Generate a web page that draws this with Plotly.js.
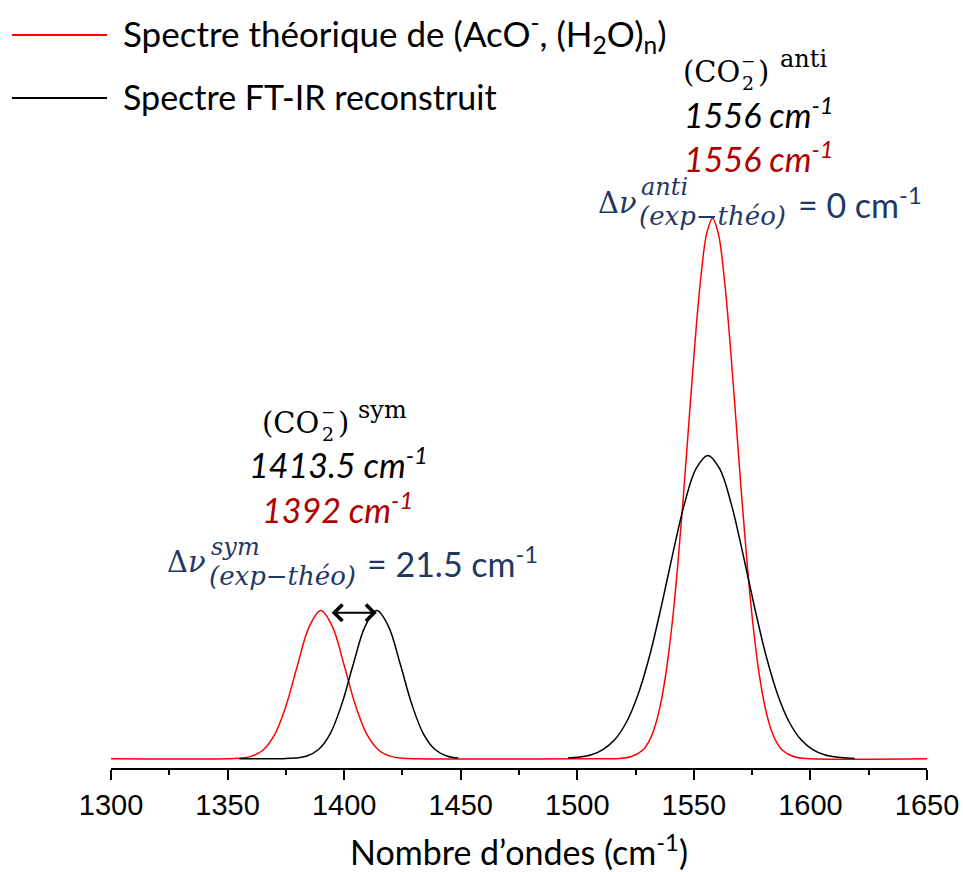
<!DOCTYPE html>
<html>
<head>
<meta charset="utf-8">
<script src="https://cdn.plot.ly/plotly-3.0.1.min.js"></script>
<style>html,body{margin:0;padding:0;background:#fff;}#chart{width:963px;height:872px;}</style>
</head>
<body>
<div id="chart"></div>
<script>
// ---- data ----
const redX = [1300, 1350, 1355, 1360, 1365, 1370, 1375, 1380, 1385, 1390, 1395, 1400, 1405, 1410, 1415, 1420, 1425, 1430,
  1500, 1518, 1523, 1528, 1530.5, 1533, 1535.5, 1538, 1540.5, 1543, 1545.5, 1548, 1550.5, 1553, 1555.5, 1558,
  1560.5, 1563, 1565.5, 1568, 1570.5, 1573, 1575.5, 1578, 1580.5, 1583, 1585.5, 1588, 1593, 1598, 1650];
const redY = [0, 0, 0.001, 0.0043, 0.0152, 0.043, 0.097, 0.173, 0.244, 0.274, 0.244, 0.173, 0.097, 0.043, 0.0152, 0.0043, 0.001, 0,
  0, 0.0006, 0.0035, 0.0156, 0.0303, 0.0556, 0.0963, 0.1574, 0.2427, 0.3534, 0.4856, 0.6298, 0.771, 0.8908, 0.9715, 1.0,
  0.9715, 0.8908, 0.771, 0.6298, 0.4856, 0.3534, 0.2427, 0.1574, 0.0963, 0.0556, 0.0303, 0.0156, 0.0035, 0.0006, 0];

const blackX = [1355, 1374, 1379, 1384, 1389, 1394, 1399, 1404, 1409, 1414, 1419, 1424, 1429, 1434, 1439, 1444, 1449,
  1470,
  1496, 1501, 1506, 1511, 1516, 1521, 1526, 1531, 1536, 1541, 1546, 1551, 1556, 1561, 1566, 1571, 1576, 1581, 1586,
  1591, 1596, 1601, 1606, 1611, 1616, 1619];
const blackY = [0, 0.0001, 0.0012, 0.005, 0.017, 0.046, 0.101, 0.176, 0.245, 0.274, 0.245, 0.176, 0.101, 0.046, 0.017, 0.005, 0.0012,
  null,
  0.0011, 0.003, 0.0074, 0.017, 0.035, 0.067, 0.118, 0.190, 0.281, 0.380, 0.472, 0.537, 0.561, 0.537, 0.472, 0.380, 0.281, 0.190, 0.118,
  0.067, 0.035, 0.017, 0.0074, 0.003, 0.0011, 0.0005];

const tickVals = [1300, 1350, 1400, 1450, 1500, 1550, 1600, 1650];
const tickText = ['1300', '1350', '1400', '1450', '1500', '1550', '1600', '1650'];

const seriesNames = ['Spectre théorique de (AcO<sup>-</sup>, (H<sub>2</sub>O)<sub>n</sub>)', 'Spectre FT-IR reconstruit'];
const arrowFrom = 1394, arrowTo = 1414, arrowLevel = 0.270;

// ---- layout helpers (pixel -> paper) ----
const L = 111, R = 927.3, T = 20, B = 768.3;
const px = x => (x - L) / (R - L);
const py = y => (B - y) / (B - T);

const SANS = 'Lato, "Open Sans", sans-serif';
const SERIF = '"DejaVu Serif", serif';
const NAVY = '#1F3864';
const DRED = '#B00000';
const SZ = 34;

function ann(text, x, y, opts) {
  return Object.assign({
    text: text, xref: 'paper', yref: 'paper', x: px(x), y: py(y),
    xanchor: 'left', yanchor: 'middle', showarrow: false, borderpad: 0,
    font: {family: SANS, size: SZ, color: '#000'}
  }, opts || {});
}

const annotations = [
  // legend texts
  ann(seriesNames[0], 122, 34, {font: {family: SANS, size: 35, color: '#000'}}),
  ann(seriesNames[1], 122, 97, {font: {family: SANS, size: SZ, color: '#000'}}),

  // anti group
  ann('(CO', 682, 72, {font: {family: SERIF, size: 29, color: '#000'}}),
  ann('2', 748, 83, {xanchor: 'center', font: {family: SERIF, size: 19, color: '#000'}}),
  ann('−', 748, 61, {xanchor: 'center', font: {family: SERIF, size: 17, color: '#000'}}),
  ann(')', 757, 72, {font: {family: SERIF, size: 29, color: '#000'}}),
  ann('anti', 779, 59, {font: {family: SERIF, size: 24, color: '#000'}}),
  ann('<i>1556 cm<sup>-1</sup></i>', 759, 113, {xanchor: 'center', font: {family: SANS, size: SZ, color: '#000'}}),
  ann('<i>1556 cm<sup>-1</sup></i>', 759, 157, {xanchor: 'center', font: {family: SANS, size: SZ, color: DRED}}),
  ann('Δ<i>ν</i>', 597, 203, {font: {family: SERIF, size: 29, color: NAVY}}),
  ann('<i>anti</i>', 640, 187, {font: {family: SERIF, size: 24, color: NAVY}}),
  ann('<i>(exp−théo)</i>', 638, 216, {font: {family: SERIF, size: 26, color: NAVY}}),
  ann('= 0 cm<sup>-1</sup>', 797, 203, {font: {family: SANS, size: SZ, color: NAVY}}),

  // sym group
  ann('(CO', 261, 423, {font: {family: SERIF, size: 29, color: '#000'}}),
  ann('2', 328, 434, {xanchor: 'center', font: {family: SERIF, size: 19, color: '#000'}}),
  ann('−', 328, 412, {xanchor: 'center', font: {family: SERIF, size: 17, color: '#000'}}),
  ann(')', 337, 423, {font: {family: SERIF, size: 29, color: '#000'}}),
  ann('sym', 357, 410, {font: {family: SERIF, size: 24, color: '#000'}}),
  ann('<i>1413.5 cm<sup>-1</sup></i>', 339, 463, {xanchor: 'center', font: {family: SANS, size: SZ, color: '#000'}}),
  ann('<i>1392 cm<sup>-1</sup></i>', 338, 508, {xanchor: 'center', font: {family: SANS, size: SZ, color: DRED}}),
  ann('Δ<i>ν</i>', 166, 562, {font: {family: SERIF, size: 29, color: NAVY}}),
  ann('<i>sym</i>', 210, 547, {font: {family: SERIF, size: 24, color: NAVY}}),
  ann('<i>(exp−théo)</i>', 208, 576, {font: {family: SERIF, size: 26, color: NAVY}}),
  ann('= 21.5 cm<sup>-1</sup>', 366, 562, {font: {family: SANS, size: SZ, color: NAVY}}),

  // double arrow between the two sym maxima
  {text: '', x: arrowTo, y: arrowLevel, ax: arrowFrom, ay: arrowLevel,
   xref: 'x', yref: 'y', axref: 'x', ayref: 'y', showarrow: true,
   arrowside: 'end+start', arrowhead: 4, startarrowhead: 4,
   arrowsize: 1.6, startarrowsize: 1.6, arrowwidth: 2, arrowcolor: '#000', standoff: 0, startstandoff: 0}
];

const shapes = [
  {type: 'line', xref: 'paper', yref: 'paper', x0: px(12), x1: px(107), y0: py(35), y1: py(35), line: {color: '#FF0000', width: 2}},
  {type: 'line', xref: 'paper', yref: 'paper', x0: px(12), x1: px(107), y0: py(98), y1: py(98), line: {color: '#000000', width: 2}}
];

const traces = [
  {x: redX, y: redY, type: 'scatter', mode: 'lines', name: 'Spectre théorique', showlegend: false,
   line: {color: '#FF0000', width: 1.5, shape: 'spline', smoothing: 1}, hoverinfo: 'x+y'},
  {x: blackX, y: blackY, type: 'scatter', mode: 'lines', name: 'Spectre FT-IR reconstruit', showlegend: false,
   connectgaps: false, line: {color: '#000000', width: 1.5, shape: 'spline', smoothing: 1}, hoverinfo: 'x+y'}
];

const yMin = -(768.3 - 759) / 540.7;
const yMax = (759 - 20) / 540.7;

const layout = {
  width: 963, height: 872,
  margin: {l: L, r: 963 - R, t: T, b: 872 - B},
  paper_bgcolor: '#fff', plot_bgcolor: '#fff',
  showlegend: false,
  xaxis: {
    range: [1300, 1650], showgrid: false, zeroline: false,
    showline: true, linecolor: '#000', linewidth: 2,
    ticks: 'outside', ticklen: 10, tickwidth: 2, tickcolor: '#000',
    tickvals: tickVals, ticktext: tickText,
    tickfont: {family: '"Liberation Sans", Arial, sans-serif', size: 29, color: '#000'},
    minor: {dtick: 25, tick0: 1300, ticks: 'outside', ticklen: 5, tickwidth: 2, tickcolor: '#000', showgrid: false},
    title: {text: 'Nombre d’ondes (cm<sup>-1</sup>)', font: {family: SANS, size: SZ, color: '#000'}, standoff: 23}
  },
  yaxis: {range: [yMin, yMax], visible: false, showgrid: false, zeroline: false},
  annotations: annotations,
  shapes: shapes
};

Plotly.newPlot('chart', traces, layout, {displayModeBar: false, staticPlot: true});
</script>
</body>
</html>
